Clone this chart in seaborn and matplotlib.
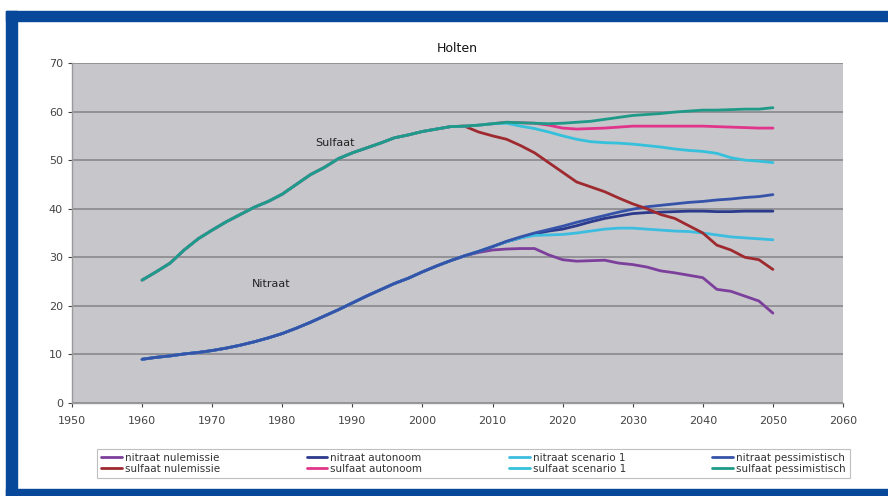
import numpy as np
import pandas as pd
import matplotlib
matplotlib.use("Agg")
import matplotlib.pyplot as plt
from matplotlib.patches import Rectangle
from matplotlib.lines import Line2D
import seaborn as sns

# ------------------------------------------------------------------
# Data
# ------------------------------------------------------------------
hist_years = list(range(1960, 2005, 2))
scen_years = list(range(2006, 2051, 2))

nitraat_hist = [9.0, 9.4, 9.7, 10.1, 10.4, 10.8, 11.3, 11.9, 12.6, 13.4, 14.3, 15.4,
                16.6, 17.9, 19.2, 20.6, 22.0, 23.3, 24.6, 25.7, 27.0, 28.2, 29.3]
sulfaat_hist = [25.3, 27.0, 28.8, 31.5, 33.8, 35.6, 37.3, 38.8, 40.3, 41.5, 43.0, 45.0,
                47.0, 48.5, 50.3, 51.5, 52.5, 53.5, 54.6, 55.2, 55.9, 56.4, 56.9]

nitraat_nulemissie = [30.3, 31.0, 31.5, 31.7, 31.8, 31.8, 30.5, 29.5, 29.2, 29.3, 29.4, 28.8,
                      28.5, 28.0, 27.2, 26.8, 26.3, 25.8, 23.4, 23.0, 22.0, 21.0, 18.5]
nitraat_autonoom = [30.3, 31.2, 32.2, 33.2, 34.0, 34.8, 35.4, 35.8, 36.5, 37.3, 38.0, 38.5,
                    39.0, 39.2, 39.3, 39.4, 39.5, 39.5, 39.4, 39.4, 39.5, 39.5, 39.5]
nitraat_scenario1 = [30.3, 31.2, 32.2, 33.2, 34.0, 34.5, 34.6, 34.7, 35.0, 35.4, 35.8, 36.0,
                     36.0, 35.8, 35.6, 35.4, 35.3, 35.0, 34.6, 34.2, 34.0, 33.8, 33.6]
nitraat_pessimistisch = [30.3, 31.2, 32.2, 33.3, 34.2, 35.0, 35.7, 36.4, 37.2, 37.9, 38.6, 39.3,
                         39.9, 40.4, 40.7, 41.0, 41.3, 41.5, 41.8, 42.0, 42.3, 42.5, 42.9]

sulfaat_nulemissie = [57.0, 55.8, 55.0, 54.3, 53.0, 51.5, 49.5, 47.5, 45.5, 44.5, 43.5, 42.2,
                      41.0, 40.0, 38.8, 38.0, 36.5, 35.0, 32.5, 31.5, 30.0, 29.5, 27.5]
sulfaat_autonoom = [57.0, 57.2, 57.5, 57.8, 57.7, 57.6, 57.2, 56.6, 56.4, 56.5, 56.6, 56.8,
                    57.0, 57.0, 57.0, 57.0, 57.0, 57.0, 56.9, 56.8, 56.7, 56.6, 56.6]
sulfaat_scenario1 = [57.0, 57.2, 57.5, 57.6, 57.0, 56.5, 55.8, 55.0, 54.3, 53.8, 53.6, 53.5,
                     53.3, 53.0, 52.7, 52.3, 52.0, 51.8, 51.4, 50.5, 50.0, 49.8, 49.5]
sulfaat_pessimistisch = [57.0, 57.2, 57.5, 57.8, 57.7, 57.6, 57.5, 57.6, 57.8, 58.0, 58.4, 58.8,
                         59.2, 59.4, 59.6, 59.9, 60.1, 60.3, 60.3, 60.4, 60.5, 60.5, 60.8]

series_names = ["nitraat nulemissie", "nitraat autonoom", "nitraat scenario 1",
                "nitraat pessimistisch", "sulfaat nulemissie", "sulfaat autonoom",
                "sulfaat scenario 1", "sulfaat pessimistisch"]
series_colors = ["#7d3f9c", "#2b3a8c", "#3cbde0", "#3553a8",
                 "#9e2a2f", "#e0358a", "#35c0dc", "#1f9a88"]

# ------------------------------------------------------------------
# Build long table
# ------------------------------------------------------------------
scen = {
    "nitraat nulemissie": (nitraat_hist, nitraat_nulemissie),
    "nitraat autonoom": (nitraat_hist, nitraat_autonoom),
    "nitraat scenario 1": (nitraat_hist, nitraat_scenario1),
    "nitraat pessimistisch": (nitraat_hist, nitraat_pessimistisch),
    "sulfaat nulemissie": (sulfaat_hist, sulfaat_nulemissie),
    "sulfaat autonoom": (sulfaat_hist, sulfaat_autonoom),
    "sulfaat scenario 1": (sulfaat_hist, sulfaat_scenario1),
    "sulfaat pessimistisch": (sulfaat_hist, sulfaat_pessimistisch),
}
rows = []
for name, (hist, fut) in scen.items():
    for yr, v in zip(hist_years + scen_years, hist + fut):
        rows.append({"jaar": yr, "waarde": v, "reeks": name})
df = pd.DataFrame(rows)

# ------------------------------------------------------------------
# Plot
# ------------------------------------------------------------------
sns.set_style("white")
plt.rcParams["font.family"] = ["DejaVu Sans"]

fig = plt.figure(figsize=(8.88, 4.96), dpi=100)
fig.patch.set_facecolor("white")

# blue frame
frame_col = "#07489a"
fig.patches.append(Rectangle((6 / 888, 1 - 21 / 496), 1, 10 / 496,
                             transform=fig.transFigure, color=frame_col, zorder=0))
fig.patches.append(Rectangle((6 / 888, 0), 11 / 888, 1 - 11 / 496,
                             transform=fig.transFigure, color=frame_col, zorder=0))
fig.patches.append(Rectangle((6 / 888, 0), 1, 7 / 496,
                             transform=fig.transFigure, color=frame_col, zorder=0))

ax = fig.add_axes([72 / 888, 93 / 496, 771 / 888, 340 / 496])
ax.set_facecolor("#c6c6cb")

sns.lineplot(data=df, x="jaar", y="waarde", hue="reeks", hue_order=series_names,
             palette=dict(zip(series_names, series_colors)), linewidth=2.0,
             legend=False, ax=ax, sort=False)

ax.set_xlim(1950, 2060)
ax.set_ylim(0, 70)
ax.set_xticks(range(1950, 2061, 10))
ax.set_yticks(range(0, 71, 10))
ax.grid(axis="y", color="#8e8e92", linewidth=1.3)
ax.set_axisbelow(True)
ax.set_xlabel("")
ax.set_ylabel("")
for s in ["top", "right"]:
    ax.spines[s].set_visible(False)
for s in ["left", "bottom"]:
    ax.spines[s].set_color("#9a9a9a")
    ax.spines[s].set_linewidth(1.0)
ax.tick_params(axis="both", labelsize=8, colors="#444444", length=3, width=0.8,
               direction="out", bottom=True, left=True)
ax.tick_params(axis="x", pad=6)

ax.set_title("Holten", fontsize=9, color="#111111", pad=8)

ax.text(1987.5, 53.5, "Sulfaat", fontsize=8, color="#222222", ha="center", va="center")
ax.text(1978.4, 24.5, "Nitraat", fontsize=8, color="#222222", ha="center", va="center")

# legend: two rows, four columns (matplotlib fills column-wise)
leg_order = [0, 4, 1, 5, 2, 6, 3, 7]
handles = [Line2D([0], [0], color=series_colors[i], linewidth=2) for i in leg_order]
labels = [series_names[i] for i in leg_order]
leg = fig.legend(handles, labels, ncol=4, loc="lower left",
                 bbox_to_anchor=(97 / 888, 18 / 496, 753 / 888, 38 / 496),
                 mode="expand", fontsize=7.5, frameon=True, fancybox=False,
                 handlelength=2.0, handletextpad=0.3, labelspacing=0.1,
                 borderpad=0.4, borderaxespad=0)
leg.get_frame().set_edgecolor("#b0b0b0")
leg.get_frame().set_linewidth(0.8)
for t in leg.get_texts():
    t.set_color("#333333")

fig.savefig("out.png", dpi=100, facecolor="white")
